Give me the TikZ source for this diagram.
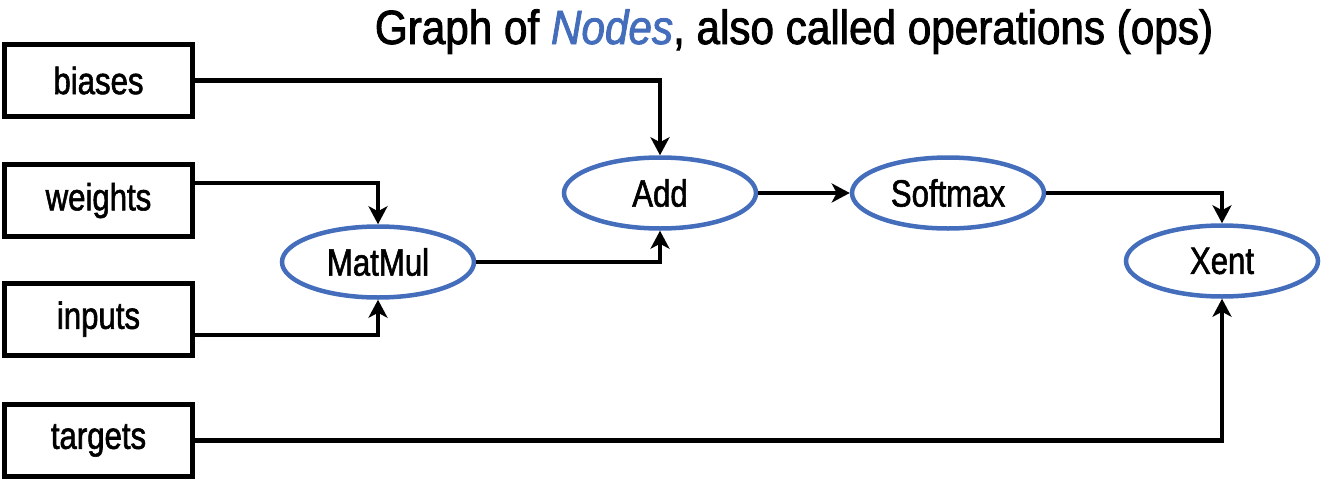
\documentclass[tikz,border=0pt]{standalone}
\usepackage{fontspec}
\setmainfont{Liberation Sans}[FakeStretch=0.82,FakeBold=1.5]
\newfontfamily\titlefont{Liberation Sans}[FakeStretch=0.88,FakeBold=1.8]
\usetikzlibrary{shapes.geometric,arrows.meta}
\definecolor{opblue}{RGB}{68,110,188}
\tikzset{
  databox/.style={draw=black, line width=5pt, rectangle, minimum width=188pt, minimum height=72pt, inner sep=0pt,
    font=\fontsize{38}{40}\selectfont},
  opnode/.style={draw=opblue, line width=4.5pt, ellipse, minimum width=192pt, minimum height=71pt, inner sep=0pt,
    font=\fontsize{38}{40}\selectfont},
  conn/.style={line width=4.2pt, draw=black, -{Stealth[length=18pt,width=19pt,inset=5pt]}}
}
\begin{document}
\begin{tikzpicture}[x=1pt,y=-1pt]
\useasboundingbox (0,0) rectangle (1325,479);
\node[anchor=base, font=\titlefont\fontsize{48}{50}\selectfont] (title) at (794,44) {Graph of \textcolor{opblue}{\textit{Nodes}}, also called operations (ops)};
\node[databox] (biases) at (98.5,80.5) {biases};
\node[databox] (weights) at (98.5,200.5) {weights};
\node[databox] (inputs) at (98.5,319) {inputs};
\node[databox] (targets) at (98.5,440.5) {targets};
\node[opnode] (matmul) at (378,262) {MatMul};
\node[opnode] (add) at (660,193) {Add};
\node[opnode] (softmax) at (948,193) {Softmax};
\node[opnode] (xent) at (1222,261) {Xent};
\draw[conn] (biases.east) -| (add.north);
\draw[conn] ([yshift=17.5pt]weights.east) -| (matmul.north);
\draw[conn] ([yshift=-16pt]inputs.east) -| (matmul.south);
\draw[conn] (matmul.east) -| (add.south);
\draw[conn] (add.east) -- (softmax.west);
\draw[conn] (softmax.east) -| (xent.north);
\draw[conn] (targets.east) -| (xent.south);
\end{tikzpicture}
\end{document}
